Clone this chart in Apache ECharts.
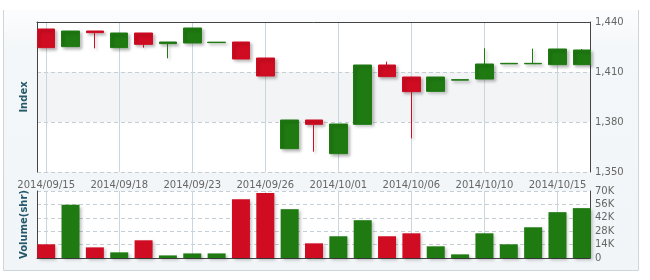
<!DOCTYPE html>
<html><head><meta charset="utf-8">
<script src="https://cdn.jsdelivr.net/npm/echarts@6/dist/echarts.min.js"></script>
<style>html,body{margin:0;padding:0;background:#fff}#c{width:650px;height:280px}</style>
</head><body><div id="c"></div>
<script>
var dates = ['2014/09/15','2014/09/16','2014/09/17','2014/09/18','2014/09/19','2014/09/22','2014/09/23','2014/09/24','2014/09/25','2014/09/26','2014/09/29','2014/09/30','2014/10/01','2014/10/02','2014/10/03','2014/10/06','2014/10/07','2014/10/08','2014/10/10','2014/10/13','2014/10/14','2014/10/15','2014/10/16'];
var openV  = [1435.8,1425.2,1434.6,1424.6,1433.4,1427.0,1427.4,1427.6,1428.0,1418.4,1364.0,1381.2,1361.0,1378.6,1414.2,1407.0,1398.4,1405.1,1405.8,1414.9,1414.9,1414.4,1414.4];
var closeV = [1424.6,1434.6,1433.6,1433.4,1426.6,1428.0,1436.4,1427.9,1417.8,1407.6,1381.2,1378.6,1378.8,1414.2,1407.2,1398.2,1407.0,1405.4,1414.8,1415.2,1415.2,1423.8,1423.2];
var lowV   = [1424.6,1425.2,1424.2,1424.6,1424.6,1418.2,1427.4,1427.6,1417.8,1407.6,1364.0,1362.2,1361.0,1378.6,1407.2,1370.2,1398.4,1405.1,1405.8,1414.9,1414.9,1414.4,1414.4];
var highV  = [1435.8,1434.6,1434.6,1433.4,1433.4,1428.0,1436.4,1427.9,1428.0,1418.4,1381.2,1381.2,1378.8,1414.2,1416.2,1407.0,1407.0,1405.4,1424.2,1415.2,1424.0,1423.8,1423.8];
var volume = [14300,55700,11100,5900,18500,2700,4800,4800,61500,67800,51000,15300,22700,39500,22700,25800,12200,3800,25800,14300,32100,47900,52100];
var priceTicks = [1350,1380,1410,1440];
var volTicks = [0,14000,28000,42000,56000,70000];

var UP = '#1f7a12', DOWN = '#d00c22';
var kData = dates.map(function(d,i){return [openV[i],closeV[i],lowV[i],highV[i]];});
var vData = volume.map(function(v,i){return {value:v,itemStyle:{color: closeV[i]>=openV[i]?UP:DOWN}};});

var lblFont = {fontFamily:'DejaVu Sans',fontSize:10,color:'#666'};
var shadow = {shadowColor:'rgba(0,0,0,0.25)',shadowBlur:3,shadowOffsetX:2,shadowOffsetY:2};
var pMin = priceTicks[0], pMax = priceTicks[priceTicks.length-1];
var vMin = volTicks[0], vMax = volTicks[volTicks.length-1];
var nameStyle = {fontFamily:'DejaVu Sans',fontSize:10,fontWeight:'bold',color:'#23596a'};
var vGrid = {show:true,interval:2,alignWithLabel:true,lineStyle:{color:'#c9d6de',width:1}};

var chart = echarts.init(document.getElementById('c'));
chart.setOption({
  animation:false,
  backgroundColor:'#fff',
  graphic:[{type:'rect',z:-10,shape:{x:3.5,y:9.5,width:635,height:261},
    style:{fill:new echarts.graphic.LinearGradient(0,0,0,1,[{offset:0,color:'#fcfdfe'},{offset:0.15,color:'#f4f7f9'},{offset:1,color:'#f2f5f7'}]),stroke:'#cfd6db',lineWidth:1}},
    {type:'rect',z:-9,shape:{x:2,y:2,width:646,height:8},style:{fill:'#fff'}}],
  grid:[
    {left:34,right:56,top:22,height:150,show:false},
    {left:34,right:56,top:191,height:67,show:false},
    {left:37,right:60,top:22,height:150,show:true,z:-1,backgroundColor:'#fff',borderWidth:0},
    {left:37,right:60,top:191,height:67,show:true,z:-1,backgroundColor:'#fff',borderWidth:0}
  ],
  xAxis:[
    {type:'category',gridIndex:0,data:dates,boundaryGap:true,
      axisLine:{show:false},axisTick:{show:false,alignWithLabel:true},
      axisLabel:Object.assign({interval:2,margin:8},lblFont),splitLine:vGrid},
    {type:'category',gridIndex:1,data:dates,boundaryGap:true,
      axisLine:{show:false},axisTick:{show:false,alignWithLabel:true},
      axisLabel:{show:false},splitLine:vGrid},
    {type:'category',gridIndex:2,data:dates,position:'top',
      axisLine:{show:true,lineStyle:{color:'#444',width:1}},axisTick:{show:false},axisLabel:{show:false},splitLine:{show:false}},
    {type:'category',gridIndex:3,data:dates,position:'bottom',
      axisLine:{show:true,lineStyle:{color:'#444',width:1}},axisTick:{show:false},axisLabel:{show:false},splitLine:{show:false}}
  ],
  yAxis:[
    {type:'value',gridIndex:0,min:pMin,max:pMax,show:false},
    {type:'value',gridIndex:1,min:vMin,max:vMax,show:false},
    {type:'value',gridIndex:2,position:'right',min:pMin,max:pMax,interval:30,
      axisLine:{show:true,lineStyle:{color:'#444'}},axisTick:{show:false},
      axisLabel:Object.assign({margin:5,formatter:function(v){return echarts.format.addCommas(v);}},lblFont),
      splitLine:{show:true,lineStyle:{color:'#c5ced5',type:[4,3]}},
      splitArea:{show:true,areaStyle:{color:['rgba(255,255,255,0)','#f2f4f6']}}},
    {type:'value',gridIndex:3,position:'right',min:vMin,max:vMax,interval:14000,
      axisLine:{show:true,lineStyle:{color:'#444'}},axisTick:{show:false},
      axisLabel:Object.assign({margin:5,formatter:function(v){return v===0?'0':(v/1000)+'K';}},lblFont),
      splitLine:{show:true,lineStyle:{color:'#c5ced5',type:[4,3]}}},
    {type:'value',gridIndex:2,position:'left',min:pMin,max:pMax,
      name:'Index',nameLocation:'middle',nameGap:8,nameTextStyle:nameStyle,
      axisLine:{show:true,lineStyle:{color:'#444'}},axisTick:{show:false},axisLabel:{show:false},splitLine:{show:false}},
    {type:'value',gridIndex:3,position:'left',min:vMin,max:vMax,
      name:'Volume(shr)',nameLocation:'middle',nameGap:8,nameTextStyle:nameStyle,
      axisLine:{show:true,lineStyle:{color:'#444'}},axisTick:{show:false},axisLabel:{show:false},splitLine:{show:false}}
  ],
  series:[
    {type:'candlestick',xAxisIndex:0,yAxisIndex:0,data:kData,barWidth:18,z:5,
      itemStyle:Object.assign({color:UP,color0:DOWN,borderColor:UP,borderColor0:DOWN,borderWidth:1},shadow)},
    {type:'bar',xAxisIndex:1,yAxisIndex:1,data:vData,barWidth:18,z:5,
      itemStyle:shadow}
  ]
});
</script></body></html>
